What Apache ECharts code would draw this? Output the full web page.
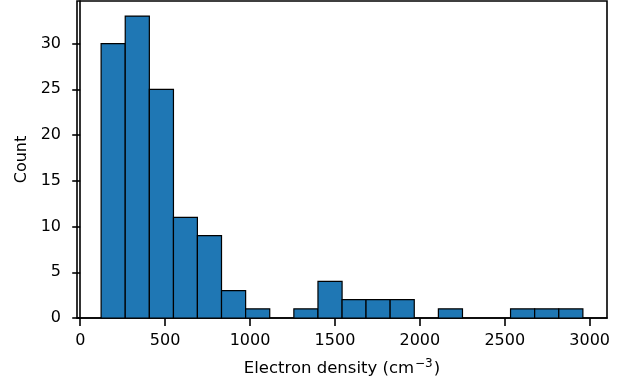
<!DOCTYPE html>
<html>
<head>
<meta charset="utf-8">
<script src="https://cdn.jsdelivr.net/npm/echarts@6/dist/echarts.min.js"></script>
<style>
  html, body { margin: 0; padding: 0; background: #fff; }
</style>
</head>
<body>
<div id="main" style="width:633px; height:385px"></div>
<script>
// histogram bins (electron density, cm^-3)
var binStart = [123, 265, 407, 549, 690, 832, 974, 1116, 1258, 1400, 1542, 1683, 1825, 1967, 2109, 2251, 2393, 2534, 2676, 2818]
var binEnd = [265, 407, 549, 690, 832, 974, 1116, 1258, 1400, 1542, 1683, 1825, 1967, 2109, 2251, 2393, 2534, 2676, 2818, 2960]
var counts = [30, 33, 25, 11, 9, 3, 1, 0, 1, 4, 2, 2, 2, 0, 1, 0, 0, 1, 1, 1]
var xTicks = [0, 500, 1000, 1500, 2000, 2500, 3000]
var yTicks = [0, 5, 10, 15, 20, 25, 30]

var chart = echarts.init(document.getElementById('main'))

var data = []
for (var i = 0; i < counts.length; i++) {
  data.push([binStart[i], binEnd[i], counts[i]])
}

var font = 'DejaVu Sans'
var plain = function (v) { return String(v) }

var option = {
  animation: false,
  grid: {
    left: 77,
    right: 26,
    top: 1,
    bottom: 67,
    show: true,
    borderColor: '#000',
    borderWidth: 1.6,
    backgroundColor: 'transparent'
  },
  xAxis: {
    type: 'value',
    min: -19,
    max: 3102,
    name: 'Electron density (cm{sup|−3})',
    nameLocation: 'middle',
    nameGap: 40,
    nameTextStyle: {
      fontFamily: font,
      fontSize: 16.5,
      color: '#000',
      rich: {
        sup: { fontFamily: font, fontSize: 12, color: '#000', padding: [0, 1, 9, 1] }
      }
    },
    splitLine: { show: false },
    axisLine: { lineStyle: { color: '#000', width: 1.6 } },
    axisTick: { customValues: xTicks, length: 8, lineStyle: { color: '#000', width: 1.6 } },
    axisLabel: { customValues: xTicks, formatter: plain, fontFamily: font, fontSize: 16, color: '#000', margin: 15 }
  },
  yAxis: {
    type: 'value',
    min: 0,
    max: 34.65,
    name: 'Count',
    nameLocation: 'middle',
    nameGap: 47,
    nameTextStyle: { fontFamily: font, fontSize: 16, color: '#000' },
    splitLine: { show: false },
    axisLine: { show: true, lineStyle: { color: '#000', width: 1.6 } },
    axisTick: { show: true, customValues: yTicks, length: 8, lineStyle: { color: '#000', width: 1.6 } },
    axisLabel: { customValues: yTicks, formatter: plain, fontFamily: font, fontSize: 16, color: '#000', margin: 16 }
  },
  series: [
    {
      type: 'custom',
      data: data,
      encode: { x: [0, 1], y: 2 },
      renderItem: function (params, api) {
        var p0 = api.coord([api.value(0), api.value(2)])
        var p1 = api.coord([api.value(1), 0])
        if (api.value(2) === 0) return null
        return {
          type: 'rect',
          shape: { x: p0[0], y: p0[1], width: p1[0] - p0[0], height: p1[1] - p0[1] },
          style: { fill: '#1f77b4', stroke: '#000', lineWidth: 1.2 }
        }
      }
    }
  ]
}

chart.setOption(option)
</script>
</body>
</html>
